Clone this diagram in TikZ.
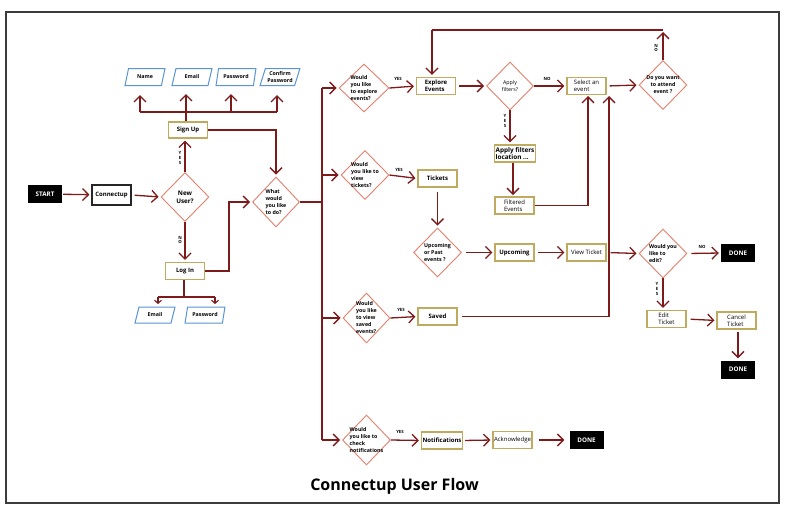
\documentclass[tikz,border=0pt]{standalone}
\usepackage{fontspec}
\setmainfont{Open Sans}
\usetikzlibrary{shapes.geometric,arrows.meta}
\definecolor{maroon}{RGB}{125,26,26}
\definecolor{salmon}{RGB}{228,128,108}
\definecolor{goldc}{RGB}{192,170,95}
\definecolor{bluec}{RGB}{90,150,212}
\definecolor{framec}{RGB}{60,60,60}
\newcommand{\fsA}{\fontsize{6}{7}\selectfont}
\newcommand{\fsD}{\fontsize{5.3}{7}\selectfont}
\newcommand{\fsL}{\bfseries\fontsize{4.3}{4.6}\selectfont}
\tikzset{
  ln/.style={draw=maroon, line width=1.3pt},
  arr/.style={ln, -{Straight Barb[length=6pt,width=12pt]}, shorten >=2pt},
  sarr/.style={ln, line width=1.1pt, -{Straight Barb[length=3pt,width=7pt]}, shorten >=1pt},
  gbox/.style={draw=goldc, line width=1.2pt, fill=white, minimum width=39pt, minimum height=17pt, inner sep=1pt, font=\fsA, align=left},
  blk/.style={fill=black, text=white, font=\bfseries\fontsize{6.3}{7}\selectfont, minimum width=34pt, minimum height=18pt, inner sep=0pt},
  dia/.style={diamond, draw=salmon, line width=0.9pt, minimum width=48pt, minimum height=49pt, inner sep=0pt, fill=white},
  dtxt/.style={font=\bfseries\fsD, align=left, inner sep=0pt},
  para/.style={trapezium, trapezium left angle=66, trapezium right angle=114, trapezium stretches=true, draw=bluec, line width=1pt, minimum width=40pt, minimum height=17pt, inner sep=0pt, font=\bfseries\fontsize{5.3}{6.3}\selectfont, align=center, fill=white},
  lab/.style={font=\fsL, inner sep=0pt, align=center},
}
\begin{document}
\begin{tikzpicture}[x=1pt,y=-1pt]
\useasboundingbox (0,0) rectangle (788,512);
\fill[white] (0,0) rectangle (788,512);
\draw[framec, line width=1.1pt] (6,12) rectangle (779,503);
\draw[framec, line width=2.2pt] (6,12) -- (6,503);

% ---- left part ----
\node[blk] (start) at (45,194) {START};
\node[draw=black!85, line width=1.2pt, minimum width=39pt, minimum height=20pt, inner sep=0pt, font=\bfseries\fsA] (connect) at (111.5,195) {Connectup};
\node[dia] (newuser) at (185,197) {};
\node[dtxt, align=center, font=\bfseries\fontsize{6.3}{8}\selectfont] at (newuser) {New\\User?};
\node[gbox, minimum height=16pt, font=\bfseries\fsA] (signup) at (188,130) {Sign Up};
\node[para] (name) at (145,77) {Name};
\node[para] (email) at (192,77) {Email};
\node[para] (pass) at (236,77) {Password};
\node[para] (conf) at (280,77) {Confirm\\Password};
\node[dia, minimum width=47pt, minimum height=50pt] (what) at (276,202) {};
\node[dtxt] at (what) {What\\would\\you like\\to do?};
\node[gbox, font=\bfseries\fsA] (login) at (185,271) {Log In};
\node[para, minimum height=16pt] (lemail) at (155,315) {Email};
\node[para, minimum height=16pt] (lpass) at (205,315) {Password};

\draw[arr, shorten <=1pt] (start) -- (connect);
\draw[arr, shorten <=3pt] (connect.east) -- (newuser.west);
\draw[arr] (newuser.north) -- (newuser.north |- signup.south);
\node[lab] at (180,158) {Y\\E\\S};
\draw[arr] (newuser.south) -- (login.north);
\node[lab] at (180,240) {N\\O};

\coordinate (busL) at (140,112);
\coordinate (busR) at (277,112);
\draw[ln] (signup.north -| 186,0) -- (186,112);
\draw[ln] (busL) -- (busR);
\draw[arr, shorten >=9pt] (busL) -- (busL |- name.south);
\draw[arr, shorten >=9pt] (186,112) -- (186,85);
\draw[arr, shorten >=9pt] (231,112) -- (231,85);
\draw[arr, shorten >=9pt] (busR) -- (busR |- conf.south);
\draw[arr] (signup.east) -| (what.north);

\coordinate (lbus) at (184,297);
\draw[ln] (login.south -| lbus) -- (lbus);
\draw[ln] (158,297) -- (215,297);
\draw[sarr, shorten >=3pt] (158,297) -- (158 ,307);
\draw[sarr, shorten >=3pt] (215,297) -- (215,307);
\draw[arr] (login.east) -- (229,271) |- (what.west);

% ---- bus ----
\node[dia, minimum width=50pt, minimum height=48pt] (d1) at (364,88) {};
\node[dtxt] at (d1) {Would\\you like\\to explore\\events?};
\node[dia] (d2) at (365,175) {};
\node[dtxt] at (d2) {Would\\you like to\\view\\tickets?};
\node[dia, minimum width=47pt, minimum height=50pt] (d3) at (366.5,318) {};
\node[dtxt] at (d3) {Would\\you like\\to view\\saved\\events?};
\node[dia, minimum height=50pt] (d4) at (366.5,440) {};
\node[dtxt] at (d4) {Would\\you like to\\check\\notifications};

\coordinate (bustop) at (322,88);
\coordinate (busbot) at (322,440);
\draw[ln] (what.east) -- (what.east -| bustop);
\draw[ln] (bustop) -- (busbot);
\draw[arr] (bustop) -- (d1.west);
\draw[arr] (bustop |- d2.west) -- (d2.west);
\draw[arr] (bustop |- d3.west) -- (d3.west);
\draw[arr] (busbot) -- (d4.west);

% ---- explore row ----
\node[gbox, font=\bfseries\fsA] (explore) at (436,86) {Explore\\Events};
\node[dia, minimum width=47pt, minimum height=48pt] (applyd) at (510,86) {};
\node[dtxt, align=center, font=\fsD] at (applyd) {Apply\\filters?};
\node[gbox] (select) at (586.5,86) {Select an\\event};
\node[dia] (attend) at (663,85) {};
\node[dtxt, align=center] at (attend) {Do you want\\to attend\\event ?};
\node[gbox, minimum width=38pt, font=\bfseries\fontsize{6.4}{7.5}\selectfont] (applyloc) at (515,153.5) {Apply filters\\location ...};
\node[gbox] (filtered) at (514.5,205.5) {Filtered\\Events};

\draw[arr] (d1.east) -- (explore.west);
\node[lab] at (398,79) {YES};
\draw[arr, shorten <=3pt] (explore.east) -- (applyd.west);
\draw[arr] (applyd.east) -- (select.west);
\node[lab] at (547,79) {NO};
\draw[arr, shorten <=3pt] (select.east) -- (attend.west);
\draw[arr] (applyd.south) -- (applyd.south |- applyloc.north);
\node[lab] at (505,121) {Y\\E\\S};
\draw[arr] (applyloc.south -| 513,0) -- (513,197);
\draw[arr] (filtered.east) -- (588,205.5) -- (588,94);

\coordinate (loopR) at (663,30);
\coordinate (loopL) at (432,30);
\draw[arr] (attend.north) -- (loopR);
\node[lab] at (656,48) {N\\O};
\draw[ln] (loopR) -- (loopL);
\draw[arr] (loopL) -- (loopL |- explore.north);

% ---- tickets ----
\node[gbox, font=\bfseries\fsA] (tickets) at (437.5,178.5) {Tickets};
\node[dia] (upd) at (437.5,252.5) {};
\node[dtxt] at (upd) {Upcoming\\or Past\\events ?};
\node[gbox, font=\bfseries\fsA] (upcoming) at (514.5,252.5) {Upcoming};
\node[gbox] (view) at (586.5,252.5) {View Ticket};
\node[dia] (editd) at (663,253.5) {};
\node[dtxt] at (editd) {Would you\\like to\\edit?};
\node[blk] (done1) at (738,253) {DONE};
\node[gbox] (edit) at (666.5,319) {Edit\\Ticket};
\node[gbox] (cancel) at (736.5,320.5) {Cancel\\Ticket};
\node[blk] (done2) at (738,369.5) {DONE};

\draw[arr] (d2.east) -- (tickets.west);
\node[lab] at (399,170) {YES};
\draw[arr, shorten <=4pt] (tickets.south) -- (upd.north);
\draw[arr, shorten <=4pt] (upd.east) -- (upcoming.west);
\draw[arr, shorten <=3pt] (upcoming.east) -- (view.west);
\draw[arr, shorten <=4pt] (view.east) -- (editd.west);
\draw[arr, shorten <=4pt] (editd.east) -- (done1.west);
\node[lab] at (702,247) {NO};
\draw[arr] (editd.south) -- (editd.south |- edit.north);
\node[lab] at (657,289) {Y\\E\\S};
\draw[arr, shorten <=4pt] (edit.east) -- (cancel.west);
\draw[arr, shorten <=2pt] (cancel.south -| done2) -- (done2.north);

% ---- saved ----
\node[gbox, font=\bfseries\fsA] (saved) at (437.5,316.5) {Saved};
\draw[arr] (d3.east) -- (saved.west);
\node[lab] at (401,310) {YES};
\draw[arr, shorten <=4pt] (saved.east) -- (609,316.5) -- (609,94);

% ---- notifications ----
\node[gbox, font=\bfseries\fsA] (notif) at (442,440.5) {Notifications};
\node[gbox] (ack) at (512.5,440) {Acknowledge};
\node[blk] (done3) at (586.5,440) {DONE};
\draw[arr] (d4.east) -- (notif.west);
\node[lab] at (400,432) {YES};
\draw[arr, shorten <=2pt] (notif.east) -- (ack.west);
\draw[arr, shorten <=6pt, shorten >=5pt] (ack.east) -- (done3.west);

\node[font=\bfseries\fontsize{16}{18}\selectfont, inner sep=0pt] (title) at (394.5,486) {Connectup User Flow};
\end{tikzpicture}
\end{document}
